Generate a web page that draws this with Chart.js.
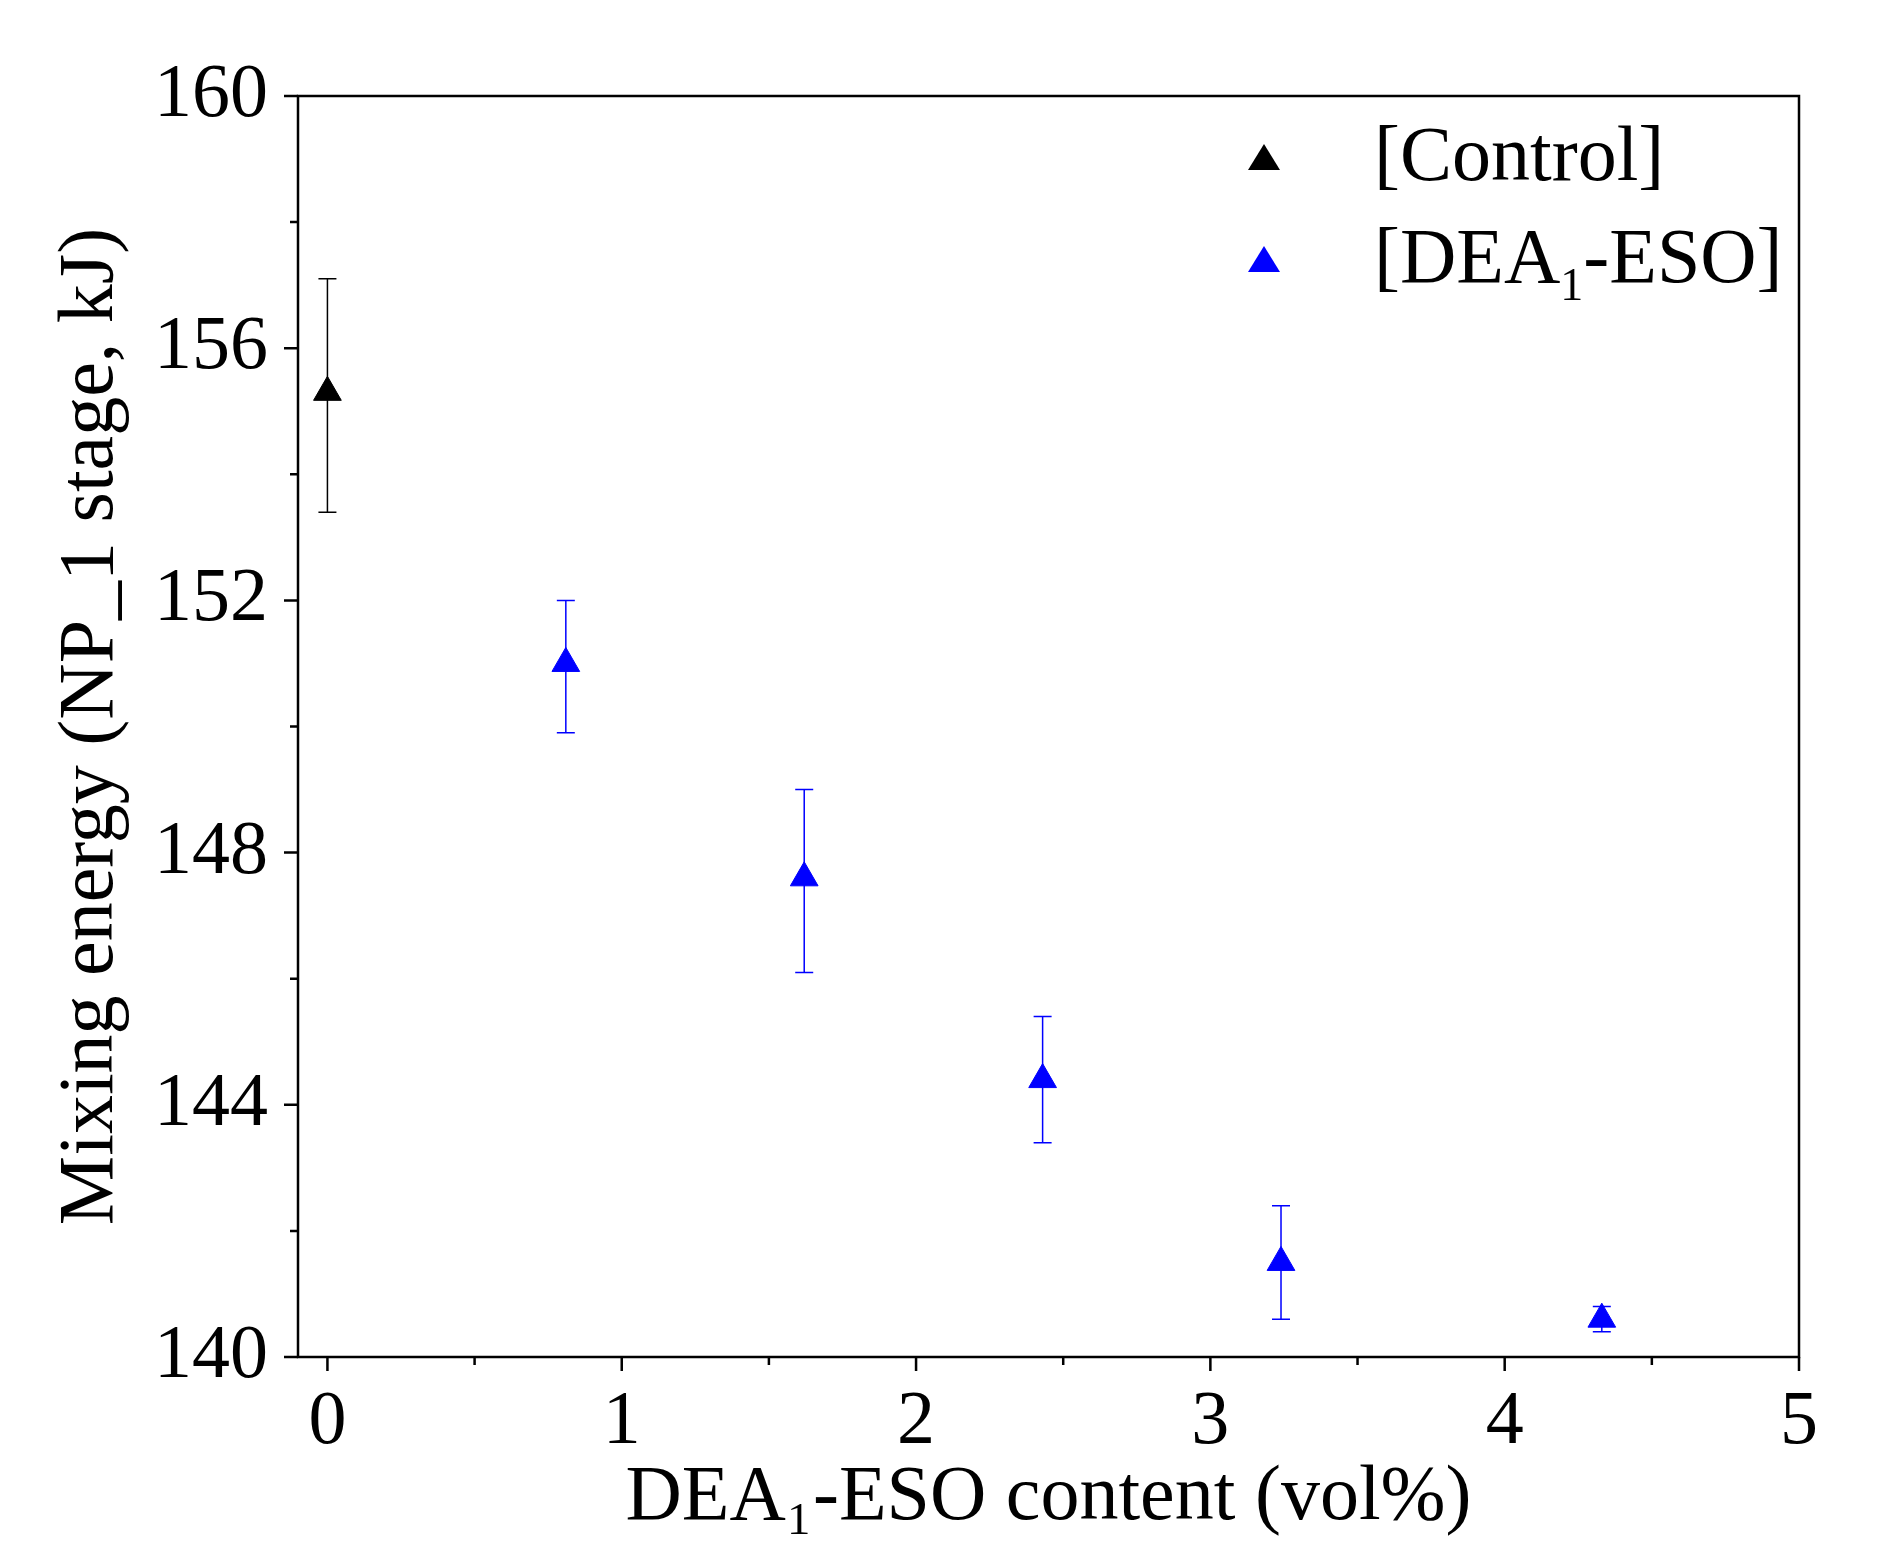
<!DOCTYPE html>
<html>
<head>
<meta charset="utf-8">
<script src="https://cdn.jsdelivr.net/npm/chart.js@4/dist/chart.umd.min.js"></script>
<style>
  html, body { margin: 0; padding: 0; background: #fff; }
  #wrap { width: 1902px; height: 1545px; }
</style>
</head>
<body>
<div id="wrap"><canvas id="grafico"></canvas></div>
<script>
// Dados
const controleX = [0];
const controleY = [155.3];
const controleMin = [153.4];
const controleMax = [157.1];

const deaX = [0.81, 1.62, 2.43, 3.24, 4.33];
const deaY = [151.0, 147.6, 144.4, 141.5, 140.6];
const deaMin = [149.9, 146.1, 143.4, 140.6, 140.4];
const deaMax = [152.0, 149.0, 145.4, 142.4, 140.8];

const xTicks = [0, 1, 2, 3, 4, 5];
const yTicks = [140, 144, 148, 152, 156, 160];

const fonte = "'Liberation Serif', 'DejaVu Serif', serif";

function pontos(xs, ys) {
    return xs.map((x, i) => ({ x: x, y: ys[i] }));
}

// Barras de erro, marcas menores e legenda
const extras = {
    id: "extras",
    afterDatasetsDraw(chart) {
        const c = chart.ctx;
        const sx = chart.scales.x, sy = chart.scales.y;
        const series = [
            { xs: controleX, lo: controleMin, hi: controleMax, cor: "#000" },
            { xs: deaX, lo: deaMin, hi: deaMax, cor: "#0000ff" }
        ];
        c.save();
        c.lineWidth = 1.5;
        series.forEach(s => {
            c.strokeStyle = s.cor;
            s.xs.forEach((x, i) => {
                const px = sx.getPixelForValue(x);
                const a = sy.getPixelForValue(s.lo[i]);
                const b = sy.getPixelForValue(s.hi[i]);
                c.beginPath();
                c.moveTo(px, a); c.lineTo(px, b);
                c.moveTo(px - 9, a); c.lineTo(px + 9, a);
                c.moveTo(px - 9, b); c.lineTo(px + 9, b);
                c.stroke();
            });
        });
        c.restore();
    },
    afterDraw(chart) {
        const c = chart.ctx;
        const sx = chart.scales.x, sy = chart.scales.y;
        const a = chart.chartArea;
        c.save();
        c.strokeStyle = "#000";
        c.lineWidth = 2.5;
        c.strokeRect(a.left, a.top, a.right - a.left, a.bottom - a.top);
        c.beginPath();
        for (let v = 0; v <= 5; v += 0.5) {
            const px = sx.getPixelForValue(v);
            const len = Number.isInteger(v) ? 14 : 8;
            c.moveTo(px, a.bottom); c.lineTo(px, a.bottom + len);
        }
        for (let v = 140; v <= 160; v += 2) {
            const py = sy.getPixelForValue(v);
            const len = (v % 4 === 0) ? 14 : 8;
            c.moveTo(a.left, py); c.lineTo(a.left - len, py);
        }
        c.stroke();

        // legenda
        const itens = [
            { cor: "#000", texto: "[Control]", y: 160 },
            { cor: "#0000ff", texto: "[DEA", sub: "1", resto: "-ESO]", y: 262 }
        ];
        c.textBaseline = "middle";
        itens.forEach(it => {
            c.fillStyle = it.cor;
            c.beginPath();
            c.moveTo(1264, it.y - 16); c.lineTo(1280, it.y + 10); c.lineTo(1248, it.y + 10);
            c.closePath(); c.fill();
            c.fillStyle = "#000";
            c.font = "78px " + fonte;
            let x = 1374;
            c.fillText(it.texto, x, it.y);
            if (it.sub) {
                x += c.measureText(it.texto).width;
                c.font = "46px " + fonte;
                c.fillText(it.sub, x, it.y + 26);
                x += c.measureText(it.sub).width;
                c.font = "78px " + fonte;
                c.fillText(it.resto, x, it.y);
            }
        });
        c.restore();
    }
};

new Chart(document.getElementById("grafico"), {
    type: "scatter",
    data: {
        datasets: [
            {
                label: "[Control]",
                data: pontos(controleX, controleY),
                pointStyle: "triangle",
                pointRadius: 16,
                backgroundColor: "#000",
                borderColor: "#000"
            },
            {
                label: "[DEA₁-ESO]",
                data: pontos(deaX, deaY),
                pointStyle: "triangle",
                pointRadius: 16,
                backgroundColor: "#0000ff",
                borderColor: "#0000ff"
            }
        ]
    },
    options: {
        responsive: true,
        maintainAspectRatio: false,
        animation: false,
        layout: { padding: { top: 96, right: 103, left: 0, bottom: 0 } },
        plugins: { legend: { display: false }, tooltip: { enabled: false } },
        scales: {
            x: {
                type: "linear",
                min: -0.1, max: 5,
                afterBuildTicks: s => { s.ticks = xTicks.map(v => ({ value: v })); },
                afterFit: s => { s.height = 188; },
                grid: { display: false, drawTicks: false },
                border: { display: false },
                ticks: { color: "#000", font: { family: fonte, size: 76 }, padding: 20 },
                title: {
                    display: true,
                    text: "DEA₁-ESO content (vol%)",
                    color: "#000",
                    font: { family: fonte, size: 78 },
                    padding: { top: 0, bottom: 0 }
                }
            },
            y: {
                min: 140, max: 160,
                afterBuildTicks: s => { s.ticks = yTicks.map(v => ({ value: v })); },
                afterFit: s => { s.width = 298; },
                grid: { display: false, drawTicks: false },
                border: { display: false },
                ticks: { color: "#000", font: { family: fonte, size: 76 }, padding: 30 },
                title: {
                    display: true,
                    text: "Mixing energy (NP_1 stage, kJ)",
                    color: "#000",
                    font: { family: fonte, size: 78 },
                    padding: { top: 45, bottom: 0 }
                }
            }
        }
    },
    plugins: [extras]
});
</script>
</body>
</html>
